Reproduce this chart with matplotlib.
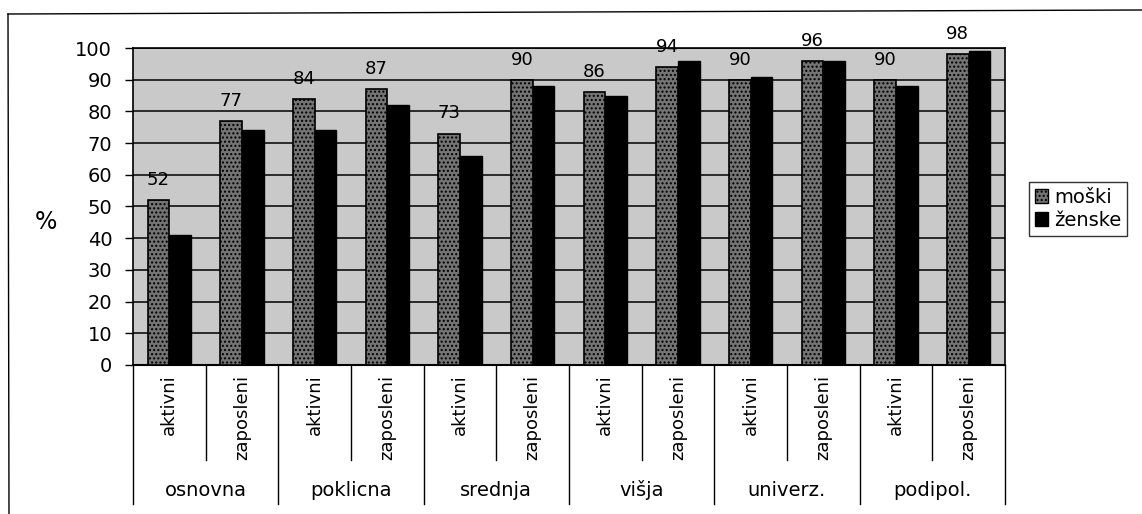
import matplotlib
matplotlib.use("Agg")
import matplotlib.pyplot as plt
import matplotlib.transforms as mtransforms
from matplotlib.lines import Line2D
from matplotlib.patches import Patch
import numpy as np

# data
groups = ["osnovna", "poklicna", "srednja", "višja", "univerz.", "podipol."]
sublabels = ["aktivni", "zaposleni"]
moski = [52, 77, 84, 87, 73, 90, 86, 94, 90, 96, 90, 98]
zenske = [41, 74, 74, 82, 66, 88, 85, 96, 91, 96, 88, 99]
yticks = list(range(0, 101, 10))

plt.rcParams['font.family'] = ['DejaVu Sans']

fig = plt.figure(figsize=(11.42, 5.14), dpi=100)
ax = fig.add_axes([0.1165, 0.29, 0.7635, 0.6166])

n = len(moski)
x = np.arange(n)
w = 0.30
ax.set_facecolor('#c9c9c9')
ax.bar(x - w / 2, moski, w, color='#747474', edgecolor='black', linewidth=1.2,
       hatch='....', zorder=3)
ax.bar(x + w / 2, zenske, w, color='black', edgecolor='black', linewidth=1, zorder=3)

# value labels for men
for xi, v in zip(x, moski):
    ax.annotate(str(v), (xi - w / 2, v), xytext=(0, 8), textcoords='offset points',
                ha='center', va='bottom', fontsize=13, zorder=4)

ax.set_xlim(-0.5, n - 0.5)
ax.set_ylim(0, 100)
ax.set_yticks(yticks)
ax.tick_params(axis='y', labelsize=14, length=6, width=1, direction='out', pad=9)
ax.yaxis.grid(True, color='black', linewidth=1.1, zorder=1)
ax.set_axisbelow(True)
for s in ['top', 'right']:
    ax.spines[s].set_visible(False)
ax.spines['left'].set_linewidth(1.2)
ax.spines['bottom'].set_linewidth(1.5)
ax.plot([-0.5, n - 0.5], [100, 100], color='black', lw=1.2, clip_on=False, zorder=2)
ax.plot([n - 0.5, n - 0.5], [0, 100], color='black', lw=1.2, clip_on=False, zorder=2)

# two-level x labels
ax.set_xticks(x)
ax.set_xticklabels([sublabels[i % 2] for i in range(n)], rotation=90,
                   fontsize=13, va='top')
ax.tick_params(axis='x', length=0, pad=7)
trans = mtransforms.blended_transform_factory(ax.transData, ax.transAxes)
for b in range(n + 1):
    bottom = -0.44 if b % 2 == 0 else -0.30
    ax.plot([b - 0.5, b - 0.5], [0, bottom], color='black', lw=1,
            transform=trans, clip_on=False)
for gi, g in enumerate(groups):
    ax.text(2 * gi + 0.5, -0.395, g, transform=trans, ha='center', va='center',
            fontsize=14)

fig.text(0.04, 1 - 222 / 514, "%", fontsize=17, ha='center', va='center')

# legend
handles = [Patch(facecolor='#747474', edgecolor='black', hatch='....', label='moški'),
           Patch(facecolor='black', edgecolor='black', label='ženske')]
leg = fig.legend(handles=handles, loc='upper left',
                 bbox_to_anchor=(1029 / 1142, 1 - 182 / 514), fontsize=14,
                 frameon=True, fancybox=False, handlelength=0.7, handleheight=0.7,
                 handletextpad=0.3, borderpad=0.3, labelspacing=0.2, borderaxespad=0)
leg.get_frame().set_edgecolor('black')
leg.get_frame().set_linewidth(1)

# outer frame of the chart
fig.add_artist(Line2D([8 / 1142, 1.0], [1 - 14 / 514, 1 - 10 / 514], color='black',
                      lw=1, transform=fig.transFigure))
fig.add_artist(Line2D([8 / 1142, 9 / 1142], [1 - 14 / 514, 0.0], color='black',
                      lw=1, transform=fig.transFigure))

fig.savefig("out.png", dpi=100)
